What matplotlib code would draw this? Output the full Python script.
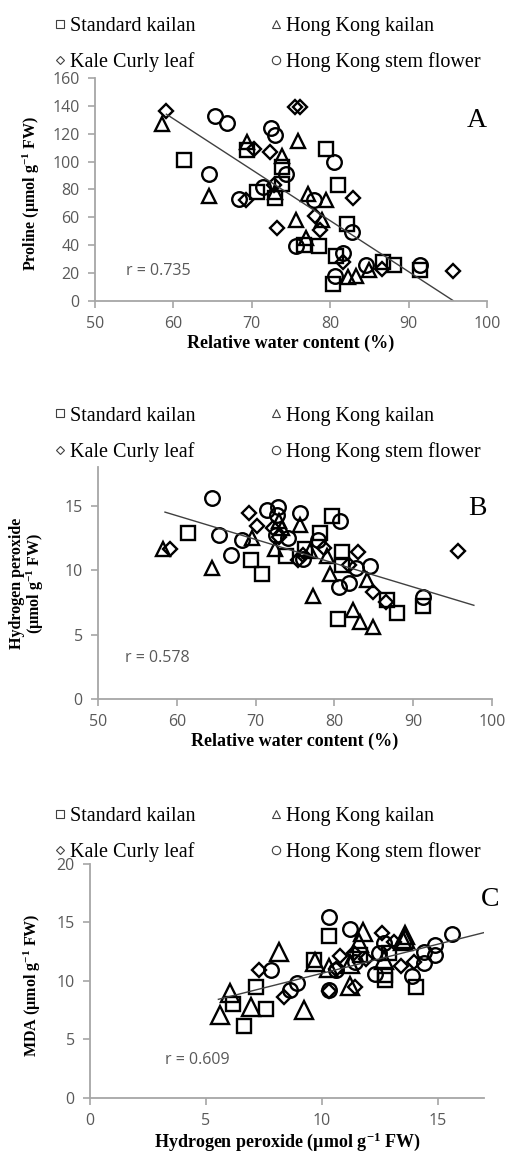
import matplotlib
matplotlib.use("Agg")
import matplotlib.pyplot as plt
from matplotlib.lines import Line2D
import numpy as np

# --- data ---
# Panel A: relative water content (%) vs proline
a_sq_x = [61.3, 69.4, 79.5, 81.0, 73.9, 73.9, 70.7, 72.9, 76.6, 78.6, 80.8, 82.1, 80.4, 86.7, 88.2, 91.4]
a_sq_y = [101, 108, 109, 83, 96, 84, 78, 74, 40, 39, 32, 55, 12, 28, 26, 22]
a_tri_x = [58.6, 69.4, 73.9, 75.9, 64.6, 72.9, 77.2, 79.5, 75.6, 79.0, 76.9, 82.3, 83.3, 85.0]
a_tri_y = [127, 114, 104, 115, 75, 78, 77, 72, 58, 58, 45, 17, 18, 22]
a_dia_x = [59.1, 75.5, 76.1, 70.3, 72.3, 72.8, 82.9, 69.3, 73.2, 78.0, 78.7, 81.6, 86.6, 95.6]
a_dia_y = [136, 139, 139, 109, 107, 83, 74, 72, 52, 61, 51, 28, 23, 21]
a_cir_x = [65.3, 66.9, 64.6, 72.4, 73.0, 74.3, 80.5, 71.4, 68.4, 77.9, 75.7, 82.8, 81.6, 80.6, 84.6, 91.4]
a_cir_y = [133, 128, 91, 124, 119, 91, 100, 82, 73, 72, 39, 49, 34, 18, 26, 26]
a_trend_x = [59.1, 95.7]
a_trend_y = [134, 0]

# Panel B: relative water content (%) vs hydrogen peroxide
b_sq_x = [61.4, 69.4, 70.8, 73.9, 76.3, 78.2, 79.7, 81.0, 81.0, 80.4, 86.7, 88.0, 91.3]
b_sq_y = [12.9, 10.8, 9.7, 11.1, 11.65, 12.9, 14.2, 11.4, 10.4, 6.2, 7.7, 6.7, 7.2]
b_tri_x = [58.3, 64.5, 69.6, 72.5, 73.4, 75.6, 76.9, 77.3, 79.0, 79.5, 84.1, 82.4, 83.3, 84.9, 73.0]
b_tri_y = [11.65, 10.2, 12.5, 11.65, 13.3, 13.5, 11.5, 8.0, 11.1, 9.7, 9.2, 6.9, 6.0, 5.6, 13.8]
b_dia_x = [59.1, 69.2, 70.2, 72.2, 73.0, 75.4, 76.0, 78.7, 83.0, 81.8, 84.9, 86.6, 95.7]
b_dia_y = [11.65, 14.4, 13.4, 13.3, 12.6, 10.8, 11.2, 11.7, 11.4, 10.4, 8.3, 7.5, 11.5]
b_cir_x = [64.5, 65.3, 66.9, 68.3, 71.4, 72.9, 72.7, 72.6, 74.1, 75.6, 77.9, 80.7, 82.8, 84.5,
           80.6, 81.8, 91.3, 76.0]
b_cir_y = [15.6, 12.7, 11.2, 12.3, 14.7, 14.9, 14.3, 12.7, 12.5, 14.4, 12.3, 13.8, 10.2, 10.3,
           8.7, 9.0, 7.9, 10.9]
b_trend_x = [58.5, 97.7]
b_trend_y = [14.5, 7.27]

# Panel C: hydrogen peroxide vs MDA
c_sq_x = [10.3, 7.17, 6.19, 7.59, 6.63, 9.65, 11.66, 12.74, 12.74, 14.08, 12.9]
c_sq_y = [13.8, 9.45, 8.0, 7.56, 6.14, 11.8, 12.2, 10.1, 10.5, 9.45, 12.4]
c_tri_x = [6.05, 5.62, 6.94, 8.14, 9.22, 9.72, 10.3, 11.8, 11.6, 13.6, 13.5, 11.2, 11.2, 12.7, 13.6]
c_tri_y = [8.93, 7.1, 7.8, 12.5, 7.5, 11.6, 11.1, 14.2, 13.2, 13.9, 13.4, 9.6, 11.4, 11.8, 13.6]
c_dia_x = [7.3, 8.35, 10.3, 10.8, 11.4, 11.45, 12.6, 13.4, 14.0, 13.1, 11.9, 10.6]
c_dia_y = [10.9, 8.6, 9.1, 12.1, 12.4, 9.5, 14.1, 11.3, 11.6, 13.3, 11.9, 11.0]
c_cir_x = [7.8, 8.64, 8.93, 10.3, 10.3, 11.23, 12.7, 12.45, 12.3, 13.9, 14.4, 14.4, 14.9, 14.9,
           15.6, 11.45, 10.6]
c_cir_y = [10.9, 9.2, 9.8, 15.5, 9.2, 14.4, 13.2, 12.4, 10.6, 10.4, 11.5, 12.5, 12.2, 13.1,
           14.0, 11.6, 10.9]
c_trend_x = [5.54, 17.0]
c_trend_y = [8.42, 14.13]

series_names = ["Standard kailan", "Kale Curly leaf", "Hong Kong kailan", "Hong Kong stem flower"]
r_labels = ["r = 0.735", "r = 0.578", "r = 0.609"]

SERIF = "Liberation Serif"
SANS = "Open Sans"
GREY = "#595959"
AXC = "#a6a6a6"

plt.rcParams["mathtext.fontset"] = "custom"
plt.rcParams["mathtext.rm"] = "Liberation Serif:bold"
plt.rcParams["mathtext.it"] = "Liberation Serif:bold"
plt.rcParams["mathtext.bf"] = "Liberation Serif:bold"

W, H = 511, 1151
fig = plt.figure(figsize=(W / 100, H / 100), dpi=100)


def px_axes(l, r, t, b):
    return fig.add_axes([l / W, 1 - b / H, (r - l) / W, (b - t) / H])


def style(ax):
    for s in ["top", "right"]:
        ax.spines[s].set_visible(False)
    for s in ["left", "bottom"]:
        ax.spines[s].set_color(AXC)
        ax.spines[s].set_linewidth(1.3)
    ax.tick_params(direction="out", length=5, width=1.2, color=AXC,
                   labelcolor=GREY, labelsize=11.5, pad=6)
    for lab in ax.get_xticklabels() + ax.get_yticklabels():
        lab.set_fontfamily(SANS)


def draw(ax, sx, sy, tx, ty, dx, dy, cx, cy, trx, try_, tri_ms=10):
    kw = dict(linestyle="none", mfc="none", mec="black", mew=1.7)
    ax.plot(sx, sy, marker="s", ms=10, **kw)
    ax.plot(tx, ty, marker="^", ms=tri_ms, **kw)
    ax.plot(dx, dy, marker="D", ms=7.5, **kw)
    ax.plot(cx, cy, marker="o", ms=10.5, **kw)
    ax.plot(trx, try_, color="#404040", lw=1.0)


def legend(ax, ycenter):
    handles = [
        Line2D([], [], ls="none", marker="s", ms=6, mfc="none", mec="#404040", mew=0.8),
        Line2D([], [], ls="none", marker="D", ms=4.5, mfc="none", mec="#404040", mew=0.8),
        Line2D([], [], ls="none", marker="^", ms=6, mfc="none", mec="#404040", mew=0.8),
        Line2D([], [], ls="none", marker="o", ms=6, mfc="none", mec="#404040", mew=0.8),
    ]
    ax.legend(handles, series_names, ncol=2, frameon=False, loc="center left",
              bbox_to_anchor=(54 / W, 1 - ycenter / H), bbox_transform=fig.transFigure,
              prop={"family": SERIF, "size": 14.5}, handlelength=0.6, handletextpad=0.2,
              columnspacing=3.7, labelspacing=0.8, borderpad=0, borderaxespad=0)


YL = dict(family=SERIF, weight="bold", fontsize=11.5)
XL = dict(family=SERIF, weight="bold", fontsize=13)

# Panel A
axA = px_axes(95, 487, 78, 300.7)
draw(axA, a_sq_x, a_sq_y, a_tri_x, a_tri_y, a_dia_x, a_dia_y, a_cir_x, a_cir_y, a_trend_x, a_trend_y)
axA.set_xlim(50, 100)
axA.set_ylim(0, 160)
axA.set_xticks(np.arange(50, 101, 10))
axA.set_yticks(np.arange(0, 161, 20))
style(axA)
axA.set_xlabel("Relative water content (%)", labelpad=2, **XL)
axA.set_ylabel("Proline (µmol g$^{-1}$ FW)", **YL)
axA.yaxis.set_label_coords(-53 / 392, 0.48)
axA.text(54.0, 21, r_labels[0], family=SANS, color=GREY, fontsize=11.5, va="center")
axA.text(0.974, 0.81, "A", transform=axA.transAxes, family=SERIF, fontsize=20, ha="center", va="center")
legend(axA, 44.5)

# Panel B
axB = px_axes(98, 492, 467, 699)
draw(axB, b_sq_x, b_sq_y, b_tri_x, b_tri_y, b_dia_x, b_dia_y, b_cir_x, b_cir_y, b_trend_x, b_trend_y)
axB.set_xlim(50, 100)
axB.set_ylim(0, 18)
axB.set_xticks(np.arange(50, 101, 10))
axB.set_yticks(np.arange(0, 16, 5))
style(axB)
axB.set_xlabel("Relative water content (%)", labelpad=2, **XL)
axB.set_ylabel("Hydrogen peroxide\n(µmol g$^{-1}$ FW)", linespacing=1.0, **YL)
axB.yaxis.set_label_coords(-52 / 394, 0.5)
axB.text(53.4, 3.2, r_labels[1], family=SANS, color=GREY, fontsize=11.5, va="center")
axB.text(0.962, 0.823, "B", transform=axB.transAxes, family=SERIF, fontsize=20, ha="center", va="center")
legend(axB, 434)

# Panel C
axC = px_axes(90, 484, 864, 1097.7)
draw(axC, c_sq_x, c_sq_y, c_tri_x, c_tri_y, c_dia_x, c_dia_y, c_cir_x, c_cir_y, c_trend_x, c_trend_y,
     tri_ms=13)
axC.set_xlim(0, 17)
axC.set_ylim(0, 20)
axC.set_xticks(np.arange(0, 16, 5))
axC.set_yticks(np.arange(0, 21, 5))
style(axC)
axC.set_xlabel("Hydrogen peroxide (µmol g$^{-1}$ FW)", labelpad=1, **XL)
axC.set_ylabel("MDA (µmol g$^{-1}$ FW)", **YL)
axC.yaxis.set_label_coords(-47 / 394, 0.48)
axC.text(3.24, 3.2, r_labels[2], family=SANS, color=GREY, fontsize=11.5, va="center")
axC.text(1.015, 0.846, "C", transform=axC.transAxes, family=SERIF, fontsize=20, ha="center", va="center")
legend(axC, 834.5)

fig.savefig("out.png", dpi=100)
